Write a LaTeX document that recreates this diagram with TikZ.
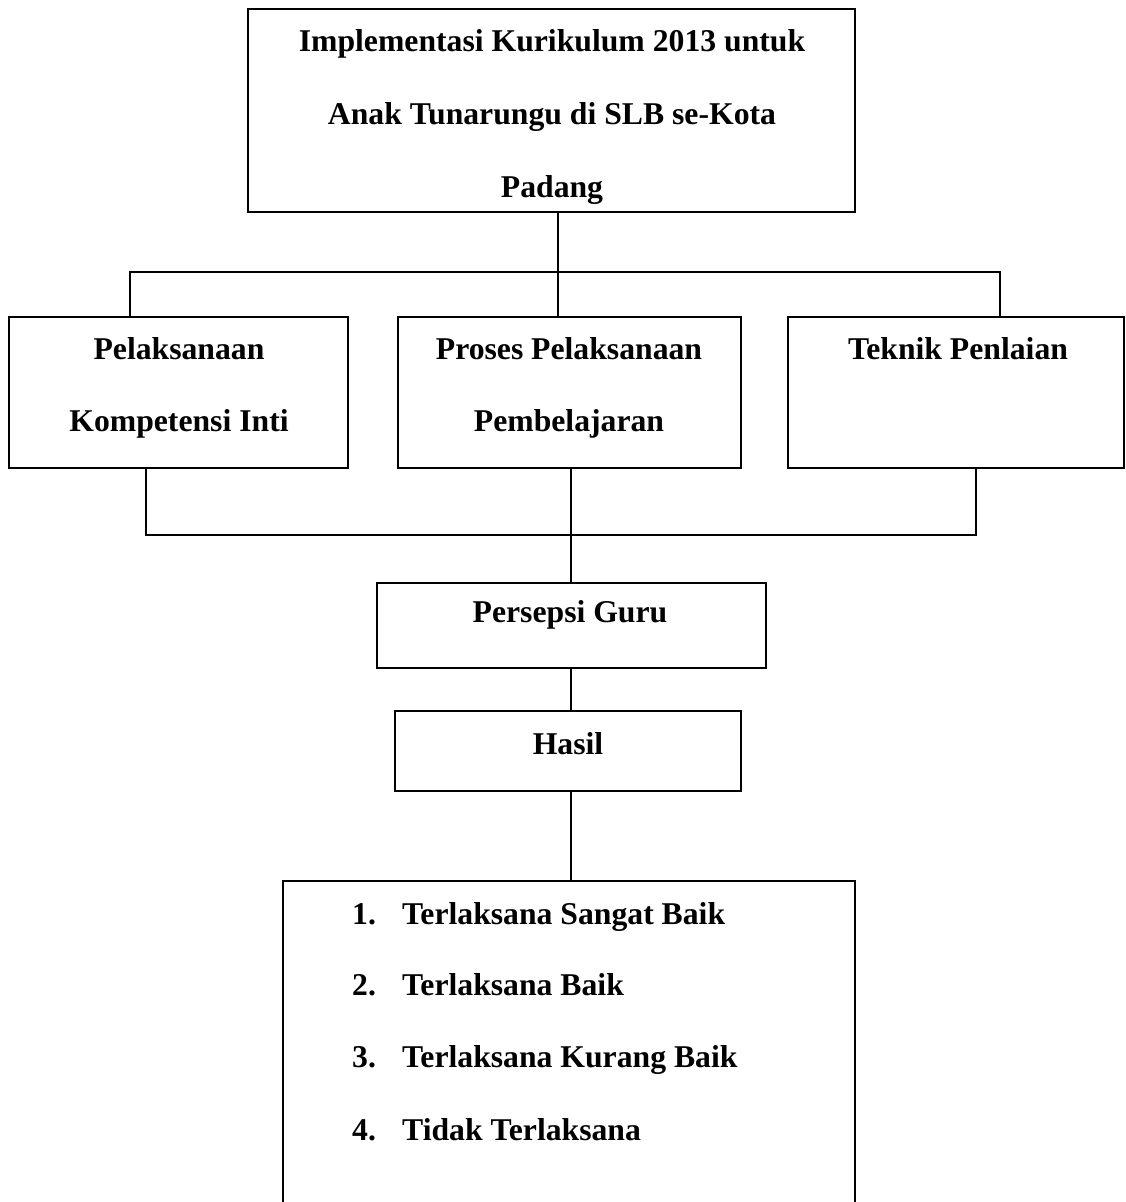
\documentclass[tikz,border=0pt]{standalone}
\usepackage{fontspec}
\setmainfont{Liberation Serif}
\usetikzlibrary{positioning}

\tikzset{
  kotak/.style={draw=black, line width=2.2pt, rectangle, inner sep=0pt, outer sep=0pt},
  teks/.style={anchor=base, inner sep=0pt, font=\fontsize{31.7}{38}\selectfont\bfseries},
  garis/.style={line width=2.2pt}
}

\begin{document}
\begin{tikzpicture}[x=1pt,y=-1pt]
\useasboundingbox (0,0) rectangle (1126,1202);
% kotak utama
\node[kotak, minimum width=607pt, minimum height=203pt] (judul) at (551.5,110.5) {};
\node[teks] (judul1) at (552,51) {Implementasi Kurikulum 2013 untuk};
\node[teks] (judul2) at (552,124) {Anak Tunarungu di SLB se-Kota};
\node[teks] (judul3) at (552,197) {Padang};
% tiga aspek
\node[kotak, minimum width=339pt, minimum height=151pt] (inti) at (178.5,392.5) {};
\node[teks] (inti1) at (179,359) {Pelaksanaan};
\node[teks] (inti2) at (179,431) {Kompetensi Inti};
\node[kotak, minimum width=343pt, minimum height=151pt] (proses) at (569.5,392.5) {};
\node[teks] (proses1) at (569,359) {Proses Pelaksanaan};
\node[teks] (proses2) at (569,431) {Pembelajaran};
\node[kotak, minimum width=336pt, minimum height=151pt] (teknik) at (956,392.5) {};
\node[teks] (teknik1) at (958,359) {Teknik Penlaian};
% persepsi dan hasil
\node[kotak, minimum width=389pt, minimum height=85pt] (persepsi) at (571.5,625.5) {};
\node[teks] (persepsi1) at (570,622) {Persepsi Guru};
\node[kotak, minimum width=346pt, minimum height=80pt] (hasil) at (568,751) {};
\node[teks] (hasil1) at (568,754) {Hasil};
\node[kotak, minimum width=572pt, minimum height=334pt] (kategori) at (569,1048) {};
\foreach \n/\t/\y in {1/Terlaksana Sangat Baik/924, 2/Terlaksana Baik/995,
                      3/Terlaksana Kurang Baik/1067, 4/Tidak Terlaksana/1140}{
  \node[teks, anchor=base west] (no\n) at (352,\y) {\n.};
  \node[teks, anchor=base west] (kat\n) at (402,\y) {\t};
}
% garis penghubung
\coordinate (ak) at (130,272);
\coordinate (at) at (558,272);
\coordinate (an) at (1000,272);
\coordinate (bk) at (146,535);
\coordinate (bt) at (571,535);
\coordinate (bn) at (976,535);
\draw[garis] (judul.south -| at) -- (at);
\draw[garis] (inti.north -| ak) -- (ak) -- (an) -- (teknik.north -| an);
\draw[garis] (at) -- (proses.north -| at);
\draw[garis] (inti.south -| bk) -- (bk) -- (bn) -- (teknik.south -| bn);
\draw[garis] (proses.south -| bt) -- (bt) -- (persepsi.north -| bt);
\draw[garis] (persepsi.south -| bt) -- (hasil.north -| bt);
\draw[garis] (hasil.south -| bt) -- (kategori.north -| bt);
\end{tikzpicture}
\end{document}
